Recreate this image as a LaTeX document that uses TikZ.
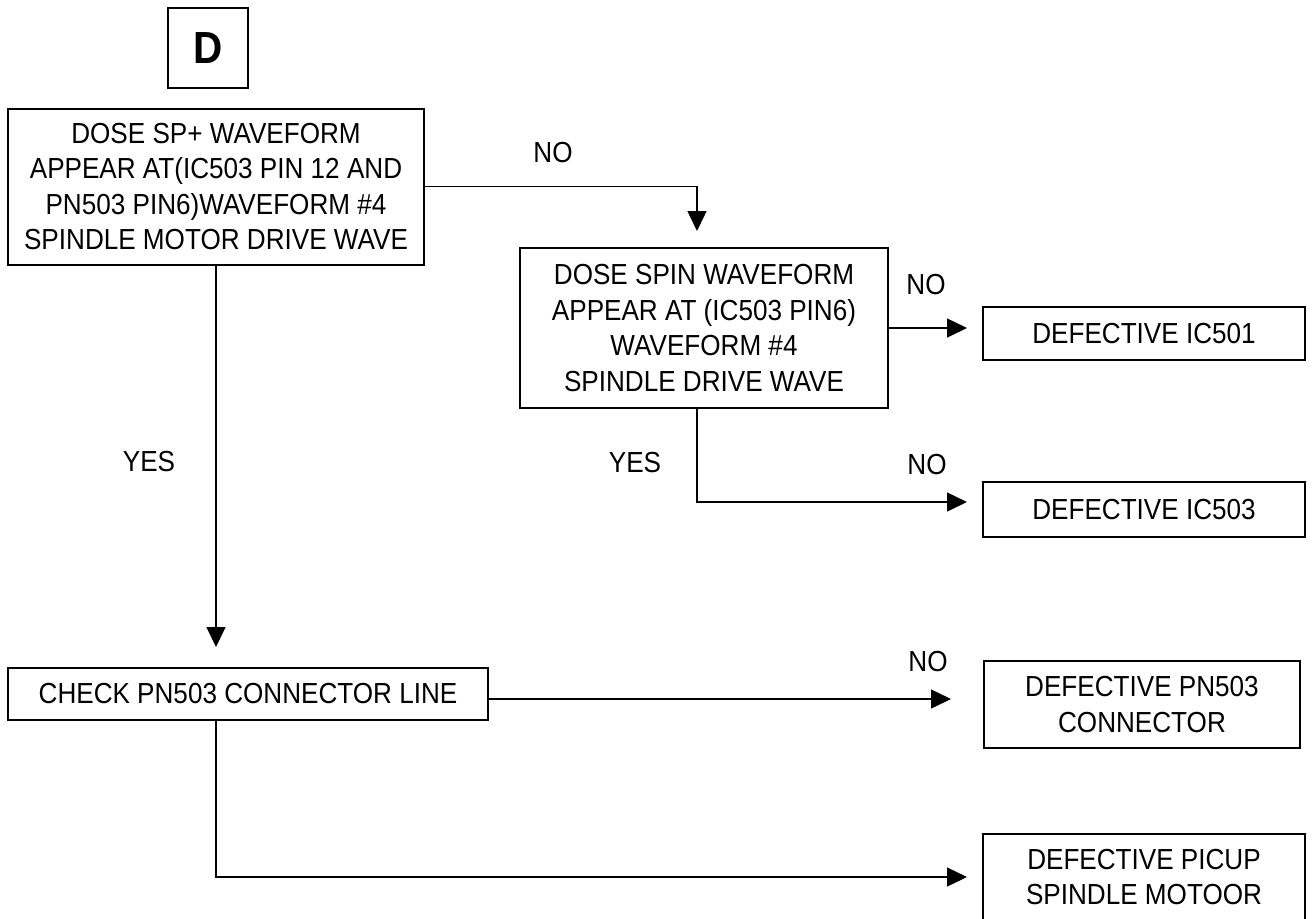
\documentclass[tikz,border=0pt]{standalone}
\usepackage{fontspec}
\setmainfont{Liberation Sans}[FakeStretch=0.9]
\usetikzlibrary{arrows.meta}

\begin{document}
\begin{tikzpicture}[x=0.5pt, y=-0.5pt,
    box/.style={draw, line width=1pt, inner sep=0pt, align=center, font=\fontsize{14.5}{17.75}\selectfont},
    lbl/.style={inner sep=0pt, font=\fontsize{14.5}{17.75}\selectfont},
    arr/.style={line width=0.75pt, -{Triangle[length=10pt, width=9.5pt]}}]
    \useasboundingbox (0, 0) rectangle (1314, 918);
    \node[box, minimum width=40pt, minimum height=40pt, font=\fontsize{22.5}{27}\selectfont\bfseries] (0) at (208, 48) {D};
    \node[box, minimum width=208pt, minimum height=78pt] (1) at (216, 186.5) {DOSE SP+ WAVEFORM\\APPEAR AT(IC503 PIN 12 AND\\PN503 PIN6)WAVEFORM \#4\\SPINDLE MOTOR DRIVE WAVE};
    \node[box, minimum width=184pt, minimum height=80pt] (2) at (704, 328) {DOSE SPIN WAVEFORM\\APPEAR AT (IC503 PIN6)\\WAVEFORM \#4\\SPINDLE DRIVE WAVE};
    \node[box, minimum width=161pt, minimum height=26.5pt] (3) at (1144, 333.5) {DEFECTIVE IC501};
    \node[box, minimum width=161pt, minimum height=27.5pt] (4) at (1144, 509.5) {DEFECTIVE IC503};
    \node[box, minimum width=240pt, minimum height=26pt] (5) at (248, 694) {CHECK PN503 CONNECTOR LINE};
    \node[box, minimum width=158pt, minimum height=43.5pt] (6) at (1142, 704.5) {DEFECTIVE PN503\\CONNECTOR};
    \node[box, minimum width=161pt, minimum height=43pt] (7) at (1144, 877) {DEFECTIVE PICUP\\SPINDLE MOTOOR};

    \node[lbl] (8) at (553, 153) {NO};
    \node[lbl] (9) at (926, 285) {NO};
    \node[lbl] (10) at (149, 462) {YES};
    \node[lbl] (11) at (635, 463) {YES};
    \node[lbl] (12) at (927, 465) {NO};
    \node[lbl] (13) at (928, 662) {NO};

    \draw[arr, shorten >=8pt] (1.east) -| ([xshift=-3.5pt]2.north);
    \draw[arr, shorten >=7.5pt] (2.east) -- (2.east -| 3.west);
    \draw[arr, shorten >=7.5pt] ([xshift=-3.5pt]2.south) |- ([yshift=3.75pt]4.west);
    \draw[arr, shorten >=10pt] (1.south) -- (1.south |- 5.north);
    \draw[arr, shorten >=16pt] ([yshift=-2.5pt]5.east) -- ([yshift=-2.5pt]5.east -| 6.west);
    \draw[arr, shorten >=7.5pt] (5.south -| 1.south) |- (7.west);
\end{tikzpicture}
\end{document}
